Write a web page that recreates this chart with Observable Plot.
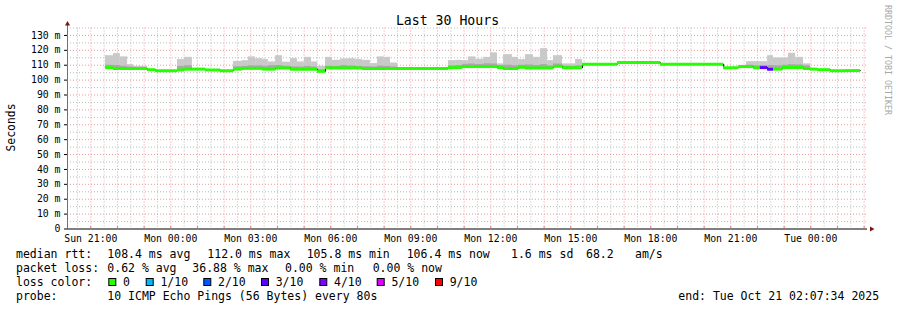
<!DOCTYPE html>
<html><head><meta charset="utf-8">
<script src="https://cdn.jsdelivr.net/npm/d3@7"></script>
<script src="https://cdn.jsdelivr.net/npm/@observablehq/plot@0.6"></script>
<style>
html,body{margin:0;padding:0;background:#fff;}
#wrap{position:relative;width:897px;height:310px;overflow:hidden;background:#fff;}
#wrap svg{position:absolute;left:0;top:0;}
</style></head><body>
<div id="wrap"></div>
<script>
// ---- data (hours since Sun Oct 19 2025 00:00) ----
const segStart = [21.55,21.85,22.11,22.38,22.60,23.13,23.43,24.25,24.51,24.81,25.30,25.86,26.35,26.69,26.91,27.18,27.44,27.66,27.93,28.19,28.49,28.75,29.01,29.28,29.50,29.80,30.06,30.36,30.63,30.93,31.19,31.49,31.75,32.01,32.24,32.50,34.41,34.68,34.94,35.16,35.43,35.73,35.99,36.25,36.48,36.81,37.04,37.30,37.60,37.86,38.13,38.35,38.69,38.91,39.18,39.44,40.75,42.36,44.73,45.29,45.59,45.85,46.11,46.38,46.60,46.94,47.16,47.43,47.73,47.99,48.25,48.74,49.30];
const dataEnd = 49.86;
const median = [108.4,107.8,107.8,107.8,107.8,107.0,106.3,106.8,107.4,107.4,106.8,106.3,107.4,107.9,107.9,107.9,107.4,107.4,108.2,108.2,107.3,107.3,107.3,107.3,105.9,108.2,108.2,108.2,108.2,108.2,107.8,107.8,107.8,107.8,107.8,107.8,108.4,108.4,109.1,109.1,109.1,109.1,109.1,108.4,107.8,107.8,108.6,108.2,108.2,108.2,108.2,109.3,108.3,108.3,108.3,110.7,111.9,110.7,108.3,109.1,109.1,108.3,108.4,107.3,107.4,108.5,108.5,108.5,107.8,107.4,107.0,106.3,106.4];
const lossCount = [0,0,0,0,0,0,0,0,0,0,0,0,0,0,0,0,0,0,0,0,0,0,0,0,0,0,0,0,0,0,0,0,0,0,0,0,0,0,0,0,0,0,0,0,0,0,0,0,0,0,0,0,0,0,0,0,0,0,0,0,0,0,3,3,0,0,0,0,0,0,0,0,0];
const smokeLo = [107.6,107.2,107.2,107.2,107.2,null,null,106.2,106.8,null,null,null,106.8,107.3,107.3,107.3,106.8,106.8,107.6,107.6,106.7,106.7,106.7,106.7,105.3,107.6,107.6,107.6,107.6,107.6,107.2,107.2,107.2,107.2,107.2,null,107.8,107.8,108.5,108.5,108.5,108.5,108.5,107.8,107.2,107.2,108.0,107.6,107.6,107.6,107.6,108.7,107.7,107.7,107.7,null,null,null,null,null,108.5,107.7,107.8,106.7,106.8,107.9,107.9,107.9,107.2,null,null,null,null];
const smokeMid = [110.0,109.8,109.3,108.8,108.4,null,null,109.2,109.6,null,null,null,109.0,109.2,109.6,109.6,109.3,109.7,109.8,109.3,108.9,108.8,109.2,108.8,107.0,109.3,109.2,109.8,109.5,109.2,109.0,108.8,109.4,109.2,108.8,null,109.6,109.8,110.6,110.8,110.5,111.0,110.8,109.8,110.0,109.6,110.0,110.2,109.8,110.4,109.6,110.8,109.4,109.3,109.6,null,null,null,null,null,110.0,109.6,109.8,109.8,109.6,110.0,110.4,110.2,109.6,null,null,null,null];
const smokeHi = [116.4,117.8,115.6,110.4,109.3,null,null,113.8,115.3,null,null,null,112.6,113.1,115.6,114.4,113.8,112.2,116.4,112.0,114.4,112.2,115.3,112.2,109.3,115.3,113.3,114.2,114.4,113.8,113.3,111.1,115.6,115.3,111.5,null,113.1,113.3,113.1,115.6,114.0,115.3,118.3,110.9,117.1,115.3,113.8,117.1,115.3,121.1,113.1,116.4,110.9,110.9,113.8,null,null,null,null,null,112.4,112.4,112.4,116.4,114.9,114.9,118.0,115.3,110.9,null,null,null,null];
const yTicks = [0,10,20,30,40,50,60,70,80,90,100,110,120,130];
const lossLabels = ["0","1/10","2/10","3/10","4/10","5/10","9/10"];
const lossLevels = [0,1,2,3,4,5,9];
const lossColors = ["#26ff00","#00b8ff","#0059ff","#5e00ff","#7e00ff","#dd00ff","#ff0000"];
const title = "Last 30 Hours";
const yLabel = "Seconds";
const statsRtt = [["median rtt:",16],["108.4 ms avg",107.3],["112.0 ms max",207.3],["105.8 ms min",306.7],["106.4 ms now",406.7],["1.6 ms sd",511],["68.2",586],["am/s",635]];
const statsLoss = [["packet loss:",16],["0.62 % avg",107.3],["36.88 % max",192.3],["0.00 % min",285],["0.00 % now",372.7]];
const probeText = "10 ICMP Echo Pings (56 Bytes) every 80s";
const endText = "end: Tue Oct 21 02:07:34 2025";
const watermark = "RRDTOOL / TOBI OETIKER";

// ---- build ----
const base = new Date(2025,9,19,0,0,0);
const toDate = h => new Date(base.getTime() + h*3600000);
const start = new Date(2025,9,19,20,7,34);
const end = new Date(2025,9,21,2,7,34);
const colorOf = n => lossColors[lossLevels.indexOf(n)];

const segs = segStart.map((h,i) => ({
  t0: toDate(h), t1: toDate(i+1 < segStart.length ? segStart[i+1] : dataEnd),
  med: median[i], loss: lossCount[i], lo: smokeLo[i], mid: smokeMid[i], hi: smokeHi[i]
}));
const smoke = segs.filter(d => d.hi != null);
const stepPts = segs.map(d => ({t: d.t0, v: d.med})).concat([{t: toDate(dataEnd), v: median[median.length-1]}]);

const halfHours = d3.timeMinute.every(30).range(start, end).filter(d => d.getMinutes() === 30);
const hours = d3.timeHour.range(start, end);
const xTicks = d3.timeHour.every(3).range(start, end);
const minorY = d3.range(5, 136, 10);
const majorY = yTicks.filter(v => v > 0);

const font = "'DejaVu Sans Mono', monospace";
const chart = Plot.plot({
  width: 897, height: 310,
  marginLeft: 67, marginRight: 30, marginTop: 27.5, marginBottom: 81.5,
  style: {fontFamily: font, fontSize: "9.8px", color: "#000", background: "transparent"},
  x: {type: "time", domain: [start, end]},
  y: {domain: [0, 135]},
  color: {type: "identity"},
  marks: [
    Plot.ruleY(minorY, {stroke: "#bdbdbd", strokeDasharray: "1,2"}),
    Plot.ruleX(halfHours, {stroke: "#bdbdbd", strokeDasharray: "1,2"}),
    Plot.ruleY(majorY, {stroke: "#eb9a9a", strokeDasharray: "1,2"}),
    Plot.ruleX(hours, {stroke: "#eb9a9a", strokeDasharray: "1,2"}),
    Plot.rect(smoke, {x1: "t0", x2: "t1", y1: "lo", y2: "hi", fill: "#c9c9c9"}),
    Plot.rect(smoke, {x1: "t0", x2: "t1", y1: "lo", y2: "mid", fill: "#a9a9a9"}),
    Plot.line(stepPts, {x: "t", y: "v", curve: "step-after", stroke: "#000", strokeWidth: 1}),
    Plot.ruleY(segs, {y: "med", x1: "t0", x2: "t1", stroke: d => colorOf(d.loss), strokeWidth: 3}),
    Plot.ruleX([start], {y1: 0, y2: 137, stroke: "#707070"}),
    Plot.ruleY([0], {stroke: "#000"}),
    Plot.ruleX(hours, {y1: 0, y2: 1.6, stroke: "#e07070"}),
    Plot.dot([start], {x: d => d, y: () => 137, symbol: "triangle", r: 1.9, fill: "#7a1414", stroke: "none", dy: -1}),
    Plot.dot([end], {x: d => d, y: () => 0, symbol: "triangle", r: 1.9, fill: "#7a1414", stroke: "none", dx: 4, rotate: 90}),
    Plot.axisY(yTicks, {tickFormat: d => d === 0 ? "0" : d + " m", tickSize: 3, tickPadding: 4, label: null, fontSize: 9.8}),
    Plot.axisX(xTicks, {tickFormat: d3.timeFormat("%a %H:%M"), tickSize: 0, tickPadding: 6, label: null, fontSize: 9.8})
  ]
});
const wrap = document.getElementById("wrap");
wrap.appendChild(chart);

// ---- overlay: title, axis title, legend, watermark ----
const ns = "http://www.w3.org/2000/svg";
const ov = document.createElementNS(ns, "svg");
ov.setAttribute("width", 897); ov.setAttribute("height", 310);
ov.setAttribute("font-family", font);
wrap.appendChild(ov);
function txt(s, x, y, size, opts = {}) {
  const t = document.createElementNS(ns, "text");
  t.setAttribute("x", x); t.setAttribute("y", y);
  t.setAttribute("font-size", size);
  t.setAttribute("fill", opts.fill || "#000");
  t.setAttribute("xml:space", "preserve");
  t.style.whiteSpace = "pre";
  if (opts.anchor) t.setAttribute("text-anchor", opts.anchor);
  if (opts.transform) t.setAttribute("transform", opts.transform);
  t.textContent = s;
  ov.appendChild(t);
  return t;
}
txt(title, 447.5, 24.5, 13.2, {anchor: "middle"});
txt(yLabel, 0, 0, 11.4, {anchor: "middle", transform: "translate(15,127.5) rotate(-90)"});
txt(watermark, 0, 0, 8.3, {fill: "#a8a8a8", transform: "translate(884.5,5) rotate(90)"});
const fs = 11.5;
statsRtt.forEach(([s, x]) => txt(s, x, 258.3, fs));
statsLoss.forEach(([s, x]) => txt(s, x, 272.3, fs));
txt("loss color:", 16, 286.3, fs);
const sqX = [108.3,145.7,203.3,261,319.3,376.7,435];
lossLabels.forEach((lab, i) => {
  const r = document.createElementNS(ns, "rect");
  r.setAttribute("x", sqX[i] + 0.5); r.setAttribute("y", 278.5);
  r.setAttribute("width", 7); r.setAttribute("height", 7);
  r.setAttribute("fill", lossColors[i]); r.setAttribute("stroke", "#000"); r.setAttribute("stroke-width", 1);
  ov.appendChild(r);
  txt(lab, sqX[i] + 14.7, 286.3, fs);
});
txt("probe:", 16, 300.2, fs);
txt(probeText, 107.3, 300.2, fs);
txt(endText, 678.3, 300.2, fs);
</script>
</body></html>
